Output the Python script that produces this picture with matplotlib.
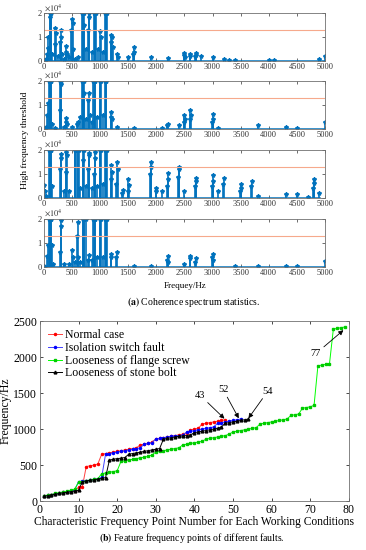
import matplotlib
matplotlib.use('Agg')
from matplotlib import pyplot as plt
import numpy as np

plt.rcParams['font.family'] = ['Liberation Serif', 'DejaVu Serif']
plt.rcParams['mathtext.fontset'] = 'stix'

# coherence spectrum statistics (values in x10^4)
f1 = [10, 30, 50, 70, 80, 100, 110, 120, 130, 150, 190, 200, 210, 250, 290, 300, 310, 320, 350, 390, 400, 410,
      450, 490, 500, 510, 520, 560, 600, 680, 690, 700, 710, 720, 750, 790, 800, 810, 850, 890, 900, 910, 920,
      960, 1000, 1010, 1050, 1090, 1100, 1110, 1120, 1190, 1200, 1210, 1220, 1300, 1310, 1500, 1590, 1600, 1610,
      1900, 2200, 2490, 2500, 2510, 2590, 2600, 2690, 2700, 2710, 2800, 3000, 3200, 3300, 3400, 4000, 4100,
      4900, 5000]
s1 = [0.05, 0.1, 0.3, 0.55, 1.0, 2, 1.85, 2, 2, 0.3, 0.7, 1.4, 1.2, 0.2, 0.8, 1.3, 1.0, 0.3, 0.1, 0.4, 0.65, 0.3,
      0.15, 1.3, 1.75, 1.6, 0.5, 0.1, 0.15, 2, 2, 2, 2, 1.5, 0.5, 1.3, 2, 1.85, 0.4, 2, 2, 2, 2,
      0.5, 1.25, 1.0, 0.4, 2, 2, 2, 2, 0.8, 1.1, 1.0, 0.6, 0.3, 0.15, 0.15, 0.3, 0.6, 0.4,
      0.15, 0.12, 0.25, 0.35, 0.15, 0.2, 0.3, 0.2, 0.35, 0.25, 0.2, 0.15, 0.1, 0.05, 0.05, 0.03, 0.05,
      0.1, 0.2]

f2 = [30, 50, 70, 90, 100, 110, 120, 130, 150, 200, 280, 290, 300, 310, 350, 390, 400, 410, 500, 590, 600, 640,
      680, 690, 700, 710, 720, 750, 780, 800, 820, 850, 880, 890, 900, 910, 950, 990, 1000, 1010, 1050, 1090,
      1100, 1110, 1190, 1200, 1210, 1300, 1600, 2100, 2190, 2200, 2400, 2490, 2500, 2510, 2590, 2600, 2610,
      2990, 3000, 3010, 3100, 3800, 4300, 4500, 5000]
s2 = [0.1, 0.6, 1.1, 2, 2, 2, 2, 2, 0.2, 0.05, 0.8, 2, 2, 1.9, 0.1, 0.3, 0.45, 0.2, 0.1, 0.2, 0.3, 0.5,
      2, 2, 2, 2, 1.5, 0.4, 1.2, 1.5, 0.6, 0.3, 2, 2, 2, 2, 0.5, 2, 2, 2, 0.6, 2,
      2, 2, 0.5, 0.7, 0.4, 0.1, 0.05, 0.05, 0.15, 0.2, 0.15, 0.3, 0.6, 0.4, 0.4, 0.8, 0.6,
      0.3, 0.65, 0.4, 0.05, 0.15, 0.1, 0.05, 0.3]

f3 = [0, 20, 40, 90, 100, 110, 120, 130, 150, 290, 300, 310, 350, 390, 400, 410, 450, 550, 560, 580, 600, 620,
      650, 690, 700, 710, 750, 790, 800, 810, 850, 890, 900, 910, 950, 990, 1000, 1010, 1050, 1090, 1100, 1110,
      1120, 1190, 1200, 1210, 1290, 1300, 1310, 1390, 1400, 1490, 1500, 1510, 1890, 1900, 1910, 1990, 2000,
      2100, 2190, 2200, 2210, 2390, 2400, 2410, 2500, 2690, 2700, 2710, 2990, 3000, 3010, 3100, 3190, 3200,
      3490, 3500, 3510, 3690, 3700, 3800, 4300, 4500, 4700, 4790, 4800, 4810, 4900]
s3 = [0.55, 0.3, 0.1, 2, 2, 2, 2, 2, 0.5, 1.2, 1.85, 1.7, 0.3, 1.1, 1.95, 1.8, 0.3, 2, 2, 2, 2, 2,
      0.4, 1.6, 2, 2, 0.5, 1.2, 1.9, 1.8, 0.4, 1.0, 1.95, 1.7, 0.5, 2, 2, 2, 0.6, 2, 2, 2,
      2, 0.8, 1.4, 1.1, 0.6, 1.5, 1.2, 0.2, 0.35, 0.3, 0.8, 0.55, 1.0, 1.5, 1.3, 0.3, 0.4,
      0.3, 0.5, 1.05, 0.8, 0.9, 1.3, 1.2, 0.3, 0.5, 0.85, 0.7, 0.5, 0.95, 0.7, 0.3, 0.6, 0.85,
      0.3, 0.6, 0.4, 0.5, 0.7, 0.1, 0.15, 0.15, 0.05, 0.4, 0.8, 0.65, 0.2]

f4 = [0, 50, 70, 90, 100, 110, 120, 130, 150, 170, 290, 300, 310, 350, 450, 500, 510, 550, 590, 600, 610, 650,
      690, 700, 710, 720, 740, 790, 800, 850, 880, 890, 900, 910, 950, 990, 1000, 1010, 1050, 1090, 1100,
      1110, 1120, 1190, 1200, 1290, 1300, 1600, 1900, 2190, 2200, 2210, 2500, 2590, 2600, 2690, 2700,
      2990, 3000, 3010, 3400, 3800, 4300, 4500, 5000]
s4 = [0.05, 0.45, 0.9, 2, 2, 2, 2, 2, 0.9, 0.1, 0.6, 1.95, 1.7, 0.1, 0.1, 0.7, 0.4, 0.2, 1.3, 1.9, 0.4, 0.2,
      2, 2, 2, 2, 2, 0.3, 0.5, 0.3, 2, 2, 2, 2, 0.4, 2, 2, 2, 0.4, 2, 2,
      2, 2, 0.4, 0.55, 0.4, 0.6, 0.05, 0.05, 0.3, 0.45, 0.2, 0.1, 0.35, 0.45, 0.2, 0.35,
      0.4, 0.55, 0.3, 0.05, 0.05, 0.05, 0.05, 0.25]

threshold = 1.3

# feature frequency points
normal = [70, 80, 90, 100, 110, 120, 125, 135, 145, 190, 200, 480, 490, 500, 515, 650, 660, 670, 680, 690,
          700, 710, 720, 730, 740, 780, 790, 800, 820, 860, 870, 880, 890, 900, 910, 920, 930, 940, 990, 1000,
          1010, 1070, 1080, 1090, 1100, 1110, 1120, 1130]
isolation = [70, 80, 90, 100, 110, 120, 125, 135, 150, 270, 275, 285, 290, 300, 310, 330, 650, 660, 670, 680,
             690, 700, 710, 720, 730, 740, 790, 800, 810, 860, 870, 880, 890, 900, 905, 910, 920, 960, 970, 980,
             990, 1000, 1010, 1020, 1030, 1080, 1090, 1100, 1110, 1120, 1130, 1140]
flange = [70, 80, 90, 105, 115, 125, 135, 150, 165, 260, 270, 280, 290, 300, 310, 380, 390, 400, 410, 420,
          550, 560, 570, 580, 590, 600, 610, 620, 640, 680, 690, 700, 710, 720, 730, 740, 780, 790, 800, 810,
          820, 830, 860, 870, 880, 890, 900, 910, 930, 960, 970, 980, 990, 1000, 1010, 1020, 1070, 1080, 1090,
          1100, 1110, 1120, 1130, 1140, 1190, 1200, 1210, 1290, 1300, 1310, 1330, 1880, 1890, 1900, 1910, 2390,
          2400, 2410, 2420]
stone = [65, 75, 85, 95, 105, 115, 120, 130, 140, 150, 270, 280, 290, 295, 305, 315, 325, 570, 580, 590,
         595, 605, 650, 660, 670, 680, 690, 700, 710, 720, 730, 860, 870, 880, 890, 900, 905, 910, 920, 950,
         960, 970, 980, 990, 1000, 1010, 1030, 1080, 1090, 1100, 1110, 1120, 1130, 1140]

blue = '#0072BD'
spine = '#707070'

fig = plt.figure(figsize=(3.66, 5.5), dpi=100)

tops = [0.889, 0.7655, 0.640, 0.515]
for b, f, s in zip(tops, [f1, f2, f3, f4], [s1, s2, s3, s4]):
    ax = fig.add_axes([0.120, b, 0.768, 0.0865])
    ml, sl, bl = ax.stem(f, np.minimum(s, 2))
    plt.setp(sl, color=blue, linewidth=1.2)
    plt.setp(ml, color=blue, marker='*', markersize=3)
    plt.setp(bl, color=blue, linewidth=1.8)
    ax.axhline(threshold, color='#F6A98C', linewidth=0.8)
    ax.set_xlim(0, 5000)
    ax.set_ylim(0, 2)
    ax.set_xticks(np.arange(0, 5001, 500))
    ax.set_yticks([0, 1, 2])
    ax.tick_params(direction='in', length=2, width=0.5, labelsize=6, pad=1.5,
                   top=True, right=True, colors='#333333')
    for sp in ax.spines.values():
        sp.set_color(spine)
        sp.set_linewidth(0.6)
    ax.text(0, 1.02, r'$\times10^4$', transform=ax.transAxes, fontsize=6, color='#333333',
            ha='left', va='bottom')

fig.text(0.068, 0.745, 'High frequency threshold', rotation=90, fontsize=6.8, ha='center', va='center')
fig.text(0.505, 0.480, 'Frequey/Hz', fontsize=6.5, ha='center', va='center')
fig.text(0.53, 0.451, r'$\mathbf{(a)}$ Coherence spectrum statistics.', fontsize=7, ha='center', va='center')

ax = fig.add_axes([0.109, 0.089, 0.844, 0.327])
ax.plot(np.arange(1, len(normal) + 1), normal, '-', color='#FF4040', linewidth=0.7, marker='.', markersize=3,
        markerfacecolor='red', markeredgecolor='red', label='Normal case')
ax.plot(np.arange(1, len(isolation) + 1), isolation, '-', color='#4040FF', linewidth=0.7, marker='.', markersize=3,
        markerfacecolor='blue', markeredgecolor='blue', label='Isolation switch fault')
ax.plot(np.arange(1, len(flange) + 1), flange, '-', color='#00FF00', linewidth=0.7, marker='s', markersize=1.6,
        markerfacecolor='#00CC00', markeredgecolor='#00CC00', label='Looseness of flange screw')
ax.plot(np.arange(1, len(stone) + 1), stone, '-', color='black', linewidth=0.7, marker='^', markersize=2,
        markerfacecolor='black', label='Looseness of stone bolt')
ax.set_xlim(0, 80)
ax.set_ylim(0, 2500)
ax.set_xticks(np.arange(0, 81, 10))
ax.set_yticks(np.arange(0, 2501, 500))
ax.tick_params(direction='in', length=2.5, width=0.5, labelsize=8.5, pad=2, top=True, right=True)
for sp in ax.spines.values():
    sp.set_color(spine)
    sp.set_linewidth(0.6)
ax.set_ylabel('Frequency/Hz', fontsize=8.5, labelpad=1)
ax.set_xlabel('Characteristic Frequency Point Number for Each Working Conditions', fontsize=8.3, labelpad=0)

arrow = dict(arrowstyle='-|>', color='black', linewidth=0.6, mutation_scale=7, shrinkA=0, shrinkB=0)
ax.annotate('43', xy=(47.8, 1145), xytext=(41.5, 1470), fontsize=7.5, ha='center', va='center', arrowprops=arrow)
ax.annotate('52', xy=(51.5, 1150), xytext=(47.5, 1545), fontsize=7.5, ha='center', va='center', arrowprops=arrow)
ax.annotate('54', xy=(54, 1150), xytext=(59, 1525), fontsize=7.5, ha='center', va='center', arrowprops=arrow)
ax.annotate('77', xy=(78.6, 2375), xytext=(71.5, 2050), fontsize=7.5, ha='center', va='center', arrowprops=arrow)

ax.legend(loc='upper left', fontsize=8.5, frameon=False, handlelength=1.2, handletextpad=0.2,
          labelspacing=0.05, borderaxespad=0.3, bbox_to_anchor=(0.0, 1.0))

fig.text(0.525, 0.022, r'$\mathbf{(b)}$ Feature frequency points of different faults.', fontsize=7, ha='center', va='center')

fig.savefig('out.png', dpi=100)
